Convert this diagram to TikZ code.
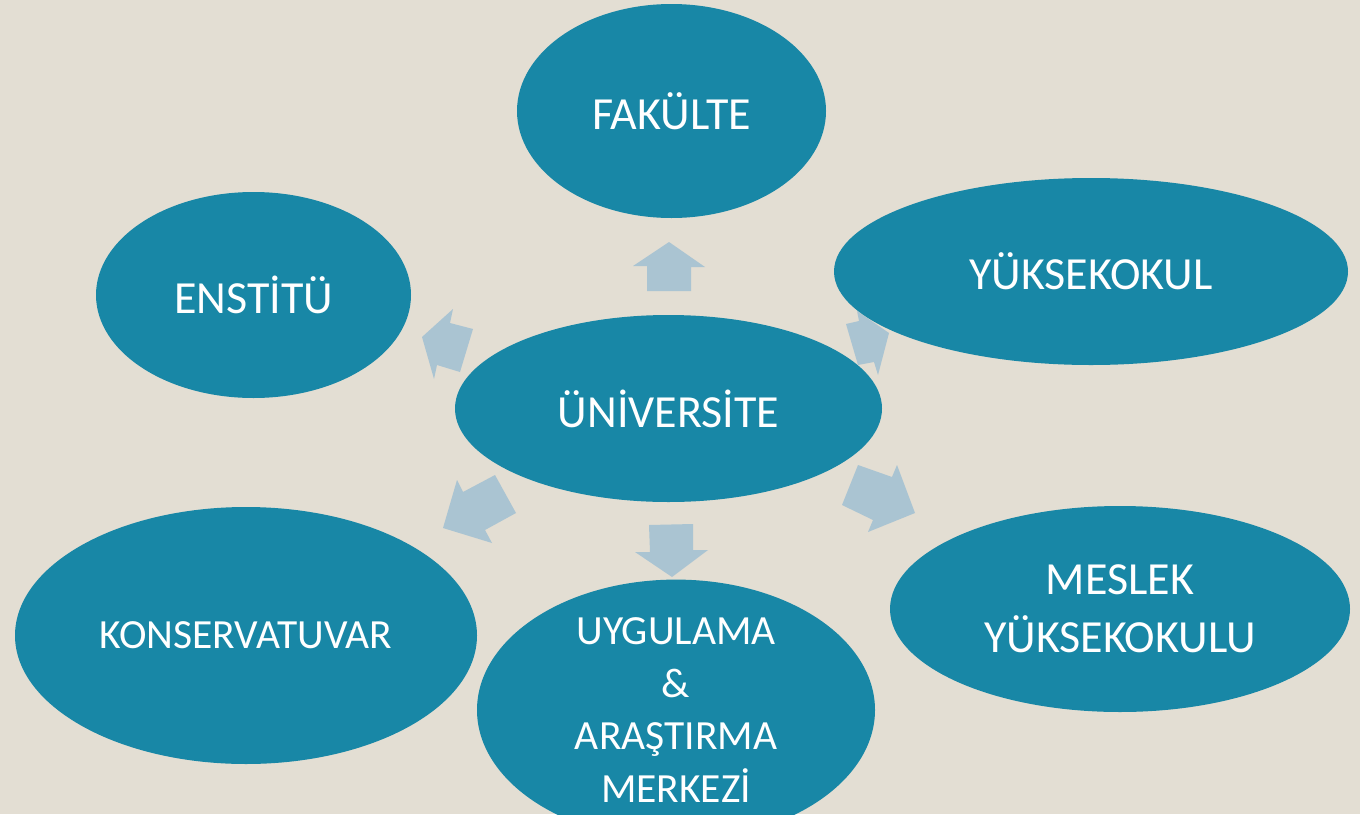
\documentclass[tikz,border=0pt]{standalone}
\usepackage{fontspec}
\setmainfont{Carlito}
\usetikzlibrary{shapes.geometric}
\definecolor{bg}{RGB}{227,222,211}
\definecolor{teal1}{RGB}{24,135,166}
\definecolor{arr}{RGB}{170,196,210}
\begin{document}
\begin{tikzpicture}[x=1pt,y=-1pt,
  blob/.style={ellipse, fill=teal1, inner sep=0pt, text=white, align=center},
  bigtxt/.style={font=\fontsize{46}{58}\selectfont},
  smalltxt/.style={font=\fontsize{41.5}{52.5}\selectfont},
  blockarrow/.style={fill=arr}]
\fill[bg] (0,0) rectangle (1360,814);
\useasboundingbox (0,0) rectangle (1360,814);
% block arrows (under the ellipses)
\fill[blockarrow] (647,291) -- (691,291) -- (691,267) -- (705,267) -- (669,242) -- (633,266) -- (647,266) -- cycle;
\fill[blockarrow] (473,329) -- (450,323) -- (453,309) -- (422,337) -- (434,379) -- (437,365) -- (460,372) -- cycle;
\fill[blockarrow] (846,324) -- (859,321) -- (857,311) -- (889,333) -- (878,375) -- (874,362) -- (858,365) -- cycle;
\fill[blockarrow] (495,475) -- (463,492) -- (457,480) -- (443,528) -- (492,543) -- (485,530) -- (516,513) -- cycle;
\fill[blockarrow] (649,525) -- (693,524) -- (693,550) -- (708,550) -- (672,577) -- (635,552) -- (650,552) -- cycle;
\fill[blockarrow] (858,465) -- (892,477) -- (897,465) -- (915,513) -- (868,532) -- (873,520) -- (842,505) -- cycle;
% ellipses
\node[blob, bigtxt, minimum width=309pt, minimum height=214pt] (fak) at (671.5,111) {FAKÜLTE};
\node[blob, bigtxt, minimum width=315pt, minimum height=206pt] (ens) at (253.5,295) {ENSTİTÜ};
\node[blob, bigtxt, minimum width=514pt, minimum height=187pt] (yuk) at (1091,271.5) {YÜKSEKOKUL};
\node[blob, bigtxt, minimum width=427pt, minimum height=187pt] (uni) at (668.5,408.5) {ÜNİVERSİTE};
\node[blob, smalltxt, minimum width=462pt, minimum height=257pt] (kon) at (246,635.5) {KONSERVATUVAR};
\node[blob, smalltxt, minimum width=398pt, minimum height=210pt] (uyg) at (676,710) {UYGULAMA\\\&\\ARAŞTIRMA\\MERKEZİ};
\node[blob, bigtxt, minimum width=460pt, minimum height=206pt] (mes) at (1120,609) {MESLEK\\YÜKSEKOKULU};
\end{tikzpicture}
\end{document}
